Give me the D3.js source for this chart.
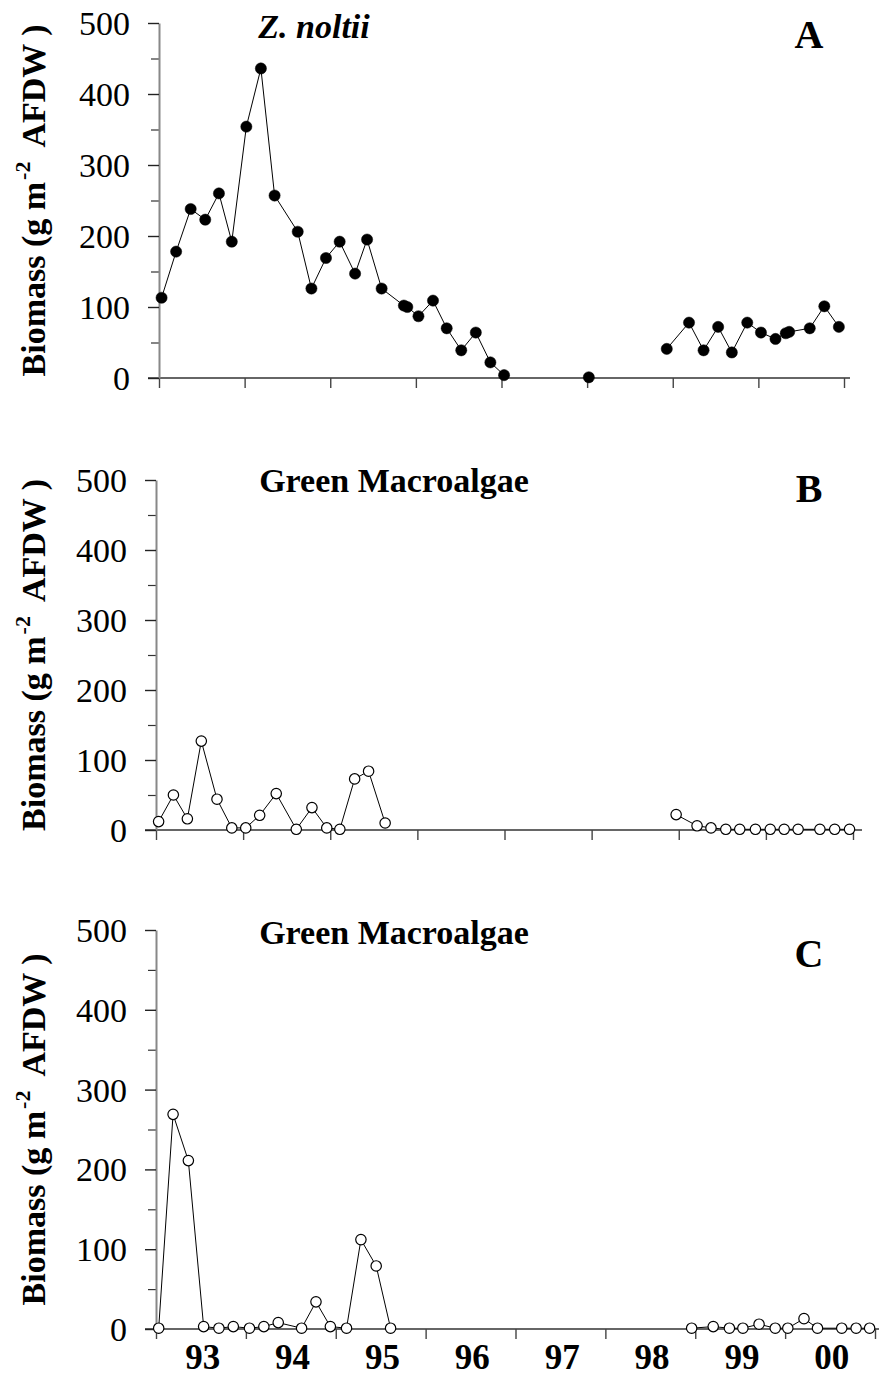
<!DOCTYPE html>
<html>
<head>
<meta charset="utf-8">
<script src="https://cdn.jsdelivr.net/npm/d3@7"></script>
<style>
  html, body { margin: 0; padding: 0; background: #fff; }
  svg { display: block; }
  svg text { font-family: "Liberation Serif", "Times New Roman", Times, serif !important; }
</style>
</head>
<body>
<svg id="chart" width="879" height="1378"></svg>
<script>
// ---------- DATA ----------
const yearTicks = [1993, 1994, 1995, 1996, 1997, 1998, 1999, 2000, 2001];
const yearLabels = ["93", "94", "95", "96", "97", "98", "99", "00"];
const yMajorTicks = [0, 100, 200, 300, 400, 500];
const yMinorTicks = [50, 150, 250, 350, 450];

// Panel A: Z. noltii (decimal year, g m-2 AFDW)
const zDates = [1993.03, 1993.20, 1993.37, 1993.54, 1993.70, 1993.85, 1994.02, 1994.19, 1994.35,
  1994.62, 1994.78, 1994.95, 1995.11, 1995.29, 1995.43, 1995.60, 1995.86, 1995.90, 1996.03,
  1996.20, 1996.36, 1996.53, 1996.70, 1996.87, 1997.03,
  1998.02,
  1998.93, 1999.19, 1999.36, 1999.53, 1999.69, 1999.87, 2000.03, 2000.20, 2000.32, 2000.36,
  2000.60, 2000.77, 2000.94];
const zBiomass = [113, 178, 238, 223, 260, 192, 354, 436, 257,
  206, 126, 169, 192, 147, 195, 126, 102, 100, 87,
  109, 70, 39, 64, 22, 4,
  1,
  41, 78, 39, 72, 36, 78, 64, 55, 63, 65,
  70, 101, 72];

// Panel B: Green Macroalgae
const bDates = [1993.03, 1993.20, 1993.36, 1993.52, 1993.70, 1993.87, 1994.03, 1994.19, 1994.38,
  1994.61, 1994.79, 1994.96, 1995.11, 1995.28, 1995.44, 1995.63,
  1998.97, 1999.21, 1999.37, 1999.54, 1999.70, 1999.88, 2000.05, 2000.21, 2000.37,
  2000.62, 2000.79, 2000.96];
const bBiomass = [12, 50, 16, 127, 44, 3, 3, 21, 52,
  1, 32, 3, 1, 73, 84, 10,
  22, 6, 3, 1, 1, 1, 1, 1, 1,
  1, 1, 1];

// Panel C: Green Macroalgae
const cDates = [1993.03, 1993.19, 1993.36, 1993.53, 1993.70, 1993.86, 1994.04, 1994.20, 1994.36,
  1994.62, 1994.78, 1994.94, 1995.12, 1995.28, 1995.45, 1995.61,
  1998.96, 1999.20, 1999.38, 1999.53, 1999.71, 1999.89, 2000.03, 2000.21, 2000.36,
  2000.63, 2000.79, 2000.94];
const cBiomass = [1, 269, 211, 3, 1, 3, 1, 3, 8,
  1, 34, 3, 1, 112, 79, 1,
  1, 3, 1, 1, 6, 1, 1, 13, 1,
  1, 1, 1];

// ---------- LAYOUT ----------
const FONT = '"Liberation Serif", "Times New Roman", Times, serif';
const panels = [
  { dates: zDates, values: zBiomass, filled: true,  title: "Z. noltii", italic: true, letter: "A",
    x0: 159, x1: 844, yBottom: 378, yTop: 23, axisEnd: 850, titleX: 314, titleY: 38, letterY: 48, showLabels: false },
  { dates: bDates, values: bBiomass, filled: false, title: "Green Macroalgae", italic: false, letter: "B",
    x0: 156, x1: 853, yBottom: 830, yTop: 480, axisEnd: 862, titleX: 394, titleY: 492, letterY: 502, showLabels: false },
  { dates: cDates, values: cBiomass, filled: false, title: "Green Macroalgae", italic: false, letter: "C",
    x0: 156, x1: 875, yBottom: 1329, yTop: 930, axisEnd: 879, titleX: 394, titleY: 944, letterY: 967, showLabels: true }
];

const svg = d3.select("#chart");
svg.append("rect").attr("width", 879).attr("height", 1378).attr("fill", "#fff");

panels.forEach(p => {
  const x = d3.scaleLinear().domain([yearTicks[0], yearTicks[yearTicks.length - 1]]).range([p.x0, p.x1]);
  const y = d3.scaleLinear().domain([0, 500]).range([p.yBottom, p.yTop]);
  const g = svg.append("g").style("font-family", FONT);

  // x axis line
  g.append("line")
    .attr("x1", x(yearTicks[0]) - 11).attr("x2", p.axisEnd)
    .attr("y1", y(0)).attr("y2", y(0))
    .attr("stroke", "#333").attr("stroke-width", 1.5);

  // x ticks
  const xAxis = g.append("g").attr("transform", `translate(0,${y(0)})`)
    .call(d3.axisBottom(x).tickValues(yearTicks).tickSize(10).tickSizeOuter(0).tickFormat(""));
  xAxis.select(".domain").remove();
  xAxis.selectAll(".tick line").attr("stroke", "#444").attr("stroke-width", 1.4);

  // y axis minor
  const yMinor = g.append("g").attr("transform", `translate(${x(yearTicks[0])},0)`)
    .call(d3.axisLeft(y).tickValues(yMinorTicks).tickSize(8).tickFormat(""));
  yMinor.select(".domain").remove();
  yMinor.selectAll(".tick line").attr("stroke", "#333").attr("stroke-width", 1.2);

  // y axis major
  const yAxis = g.append("g").attr("transform", `translate(${x(yearTicks[0])},0)`)
    .call(d3.axisLeft(y).tickValues(yMajorTicks).tickSize(11).tickSizeOuter(0).tickPadding(18).tickFormat(d3.format("d")));
  yAxis.attr("font-family", null);
  yAxis.select(".domain").attr("stroke", "#888").attr("stroke-width", 2);
  yAxis.selectAll(".tick line").attr("stroke", "#222").attr("stroke-width", 1.4);
  yAxis.selectAll(".tick text")
    .style("font-family", FONT)
    .attr("font-size", 34).attr("fill", "#000").attr("dy", "0.34em");

  // y title
  const cy = (y(0) + y(500)) / 2;
  const t = g.append("text")
    .attr("transform", `translate(45,${cy}) rotate(-90)`)
    .attr("text-anchor", "middle")
    .style("font-family", FONT)
    .attr("font-weight", "bold").attr("font-size", 34).attr("fill", "#000");
  t.append("tspan").text("Biomass (g m");
  t.append("tspan").attr("font-size", 22).attr("dy", -15).attr("dx", 2).text("-2");
  t.append("tspan").attr("dy", 15).attr("dx", 14).text("AFDW )");

  // line segments (break at sampling gaps > 0.5 year)
  const pts = p.dates.map((d, i) => ({ d, v: p.values[i] }));
  const segments = [];
  pts.forEach((pt, i) => {
    if (i === 0 || pt.d - pts[i - 1].d > 0.5) segments.push([]);
    segments[segments.length - 1].push(pt);
  });
  const line = d3.line().x(d => x(d.d)).y(d => y(d.v));
  g.selectAll(".seg").data(segments).enter().append("path")
    .attr("d", line).attr("fill", "none").attr("stroke", "#000").attr("stroke-width", 1);

  // markers
  g.selectAll(".pt").data(pts).enter().append("circle")
    .attr("cx", d => x(d.d)).attr("cy", d => y(d.v))
    .attr("r", p.filled ? 5.6 : 5.2)
    .attr("fill", p.filled ? "#000" : "#fff")
    .attr("stroke", "#000").attr("stroke-width", p.filled ? 0.5 : 1.2);

  // panel title
  g.append("text")
    .attr("x", p.titleX).attr("y", p.titleY)
    .attr("text-anchor", "middle")
    .style("font-family", FONT)
    .attr("font-weight", "bold")
    .attr("font-style", p.italic ? "italic" : "normal")
    .attr("font-size", 34).attr("fill", "#000")
    .text(p.title);

  // panel letter
  g.append("text")
    .attr("x", 809).attr("y", p.letterY)
    .attr("text-anchor", "middle")
    .style("font-family", FONT)
    .attr("font-weight", "bold").attr("font-size", 40).attr("fill", "#000")
    .text(p.letter);

  // year labels
  if (p.showLabels) {
    g.selectAll(".yl").data(yearLabels).enter().append("text")
      .attr("x", (d, i) => x(yearTicks[i] + 0.52))
      .attr("y", y(0) + 40)
      .attr("text-anchor", "middle")
      .style("font-family", FONT)
      .attr("font-weight", "bold").attr("font-size", 35).attr("fill", "#000")
      .text(d => d);
  }
});
</script>
</body>
</html>
